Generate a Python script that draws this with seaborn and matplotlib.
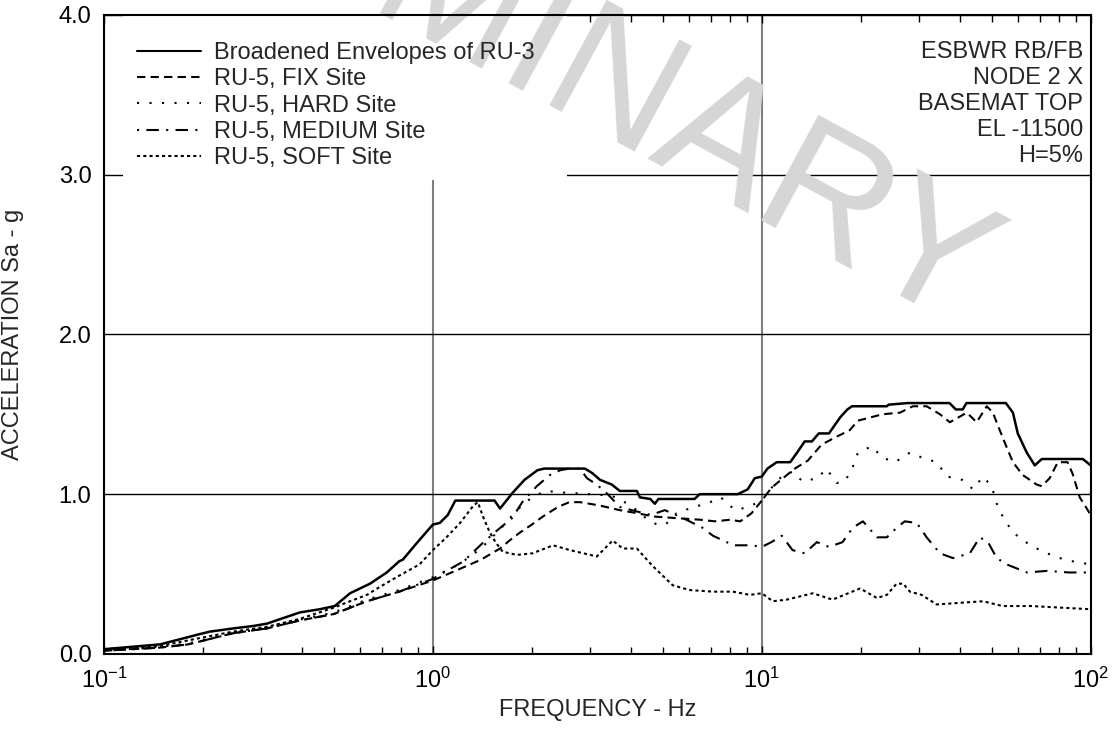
import numpy as np
import pandas as pd
import matplotlib
matplotlib.use("Agg")
import matplotlib.pyplot as plt
from matplotlib.patches import Rectangle
import seaborn as sns

# 谱加速度数据
f_env = [0.1, 0.148, 0.196, 0.21, 0.247, 0.284, 0.313, 0.394, 0.453, 0.503, 0.56, 0.644, 0.724, 0.79,
         0.81, 0.89, 1.0, 1.05, 1.11, 1.17, 1.54, 1.6, 1.75, 1.9, 2.08, 2.18, 2.9, 3.06, 3.22, 3.5,
         3.7, 4.17, 4.26, 4.58, 4.73, 4.85, 6.25, 6.47, 8.45, 9.06, 9.52, 10.0, 10.4, 11.1, 12.2,
         12.8, 13.5, 14.2, 14.9, 16.0, 17.3, 18.2, 18.8, 24.0, 24.3, 27.8, 37.2, 38.9, 40.8, 41.9,
         55.2, 58.0, 60.0, 63.9, 67.6, 71.0, 94.6, 100]
a_env = [0.03, 0.06, 0.125, 0.14, 0.16, 0.175, 0.19, 0.26, 0.28, 0.30, 0.38, 0.44, 0.51, 0.58,
         0.59, 0.69, 0.81, 0.82, 0.87, 0.96, 0.96, 0.91, 1.01, 1.09, 1.15, 1.16, 1.16, 1.13, 1.09, 1.06,
         1.02, 1.02, 0.98, 0.97, 0.94, 0.97, 0.97, 1.00, 1.00, 1.03, 1.10, 1.11, 1.16, 1.20, 1.20,
         1.26, 1.33, 1.33, 1.38, 1.38, 1.48, 1.53, 1.55, 1.55, 1.56, 1.57, 1.57, 1.53, 1.53, 1.57,
         1.57, 1.51, 1.38, 1.26, 1.18, 1.22, 1.22, 1.18]

f_fix = [0.1, 0.148, 0.18, 0.247, 0.313, 0.394, 0.5, 0.63, 0.79, 1.0, 1.2, 1.4, 1.6, 1.71, 1.84,
         2.0, 2.16, 2.4, 2.6, 2.8, 3.2, 3.7, 4.2, 4.7, 5.5, 6.5, 7.2, 8.0, 8.6, 9.3, 10.0, 10.7,
         11.6, 12.6, 13.8, 15.2, 16.9, 18.5, 19.6, 23.3, 26.3, 28.8, 31.7, 34.8, 37.3, 42.0, 45.0,
         48.3, 50.4, 52.9, 55.6, 58.0, 62.1, 68.5, 71.0, 75.0, 79.4, 85.0, 88.0, 92.6, 100]
a_fix = [0.02, 0.04, 0.06, 0.13, 0.16, 0.21, 0.25, 0.33, 0.39, 0.46, 0.53, 0.59, 0.66, 0.71, 0.76,
         0.81, 0.86, 0.92, 0.95, 0.95, 0.93, 0.90, 0.88, 0.86, 0.85, 0.84, 0.83, 0.84, 0.83, 0.88,
         0.96, 1.04, 1.10, 1.16, 1.21, 1.31, 1.36, 1.40, 1.46, 1.50, 1.51, 1.55, 1.55, 1.50, 1.45,
         1.51, 1.45, 1.55, 1.51, 1.40, 1.29, 1.20, 1.12, 1.06, 1.05, 1.10, 1.20, 1.20, 1.13, 0.98, 0.87]

f_hard = [0.1, 0.148, 0.18, 0.247, 0.313, 0.394, 0.5, 0.63, 0.79, 1.0, 1.2, 1.4, 1.6, 1.8, 2.0,
          2.2, 2.5, 3.0, 3.5, 4.0, 4.5, 4.8, 5.1, 5.5, 6.2, 6.8, 7.5, 8.3, 9.1, 10.0, 10.8, 11.6,
          12.4, 13.3, 14.8, 15.7, 16.9, 17.9, 18.9, 19.6, 21.6, 23.2, 25.4, 28.2, 30.6, 34.0, 36.6,
          40.6, 43.9, 47.0, 50.0, 51.8, 54.0, 58.0, 64.5, 71.5, 80.5, 88.0, 100]
a_hard = [0.02, 0.045, 0.065, 0.135, 0.165, 0.215, 0.26, 0.34, 0.40, 0.48, 0.56, 0.66, 0.78, 0.90,
          0.98, 1.02, 1.01, 1.00, 0.99, 0.93, 0.84, 0.81, 0.81, 0.88, 0.92, 0.94, 0.98, 0.90, 0.92,
          0.96, 1.05, 1.12, 1.14, 1.08, 1.10, 1.16, 1.07, 1.08, 1.17, 1.26, 1.30, 1.23, 1.20, 1.26,
          1.23, 1.20, 1.11, 1.09, 1.03, 1.11, 1.05, 0.94, 0.86, 0.76, 0.69, 0.64, 0.60, 0.58, 0.56]

f_med = [0.1, 0.148, 0.18, 0.247, 0.313, 0.394, 0.5, 0.63, 0.79, 1.0, 1.1, 1.24, 1.41, 1.54, 1.74,
         1.87, 2.07, 2.27, 2.44, 2.6, 2.8, 2.94, 3.15, 3.4, 3.7, 4.2, 4.6, 5.07, 5.63, 6.6, 7.1, 8.2,
         9.3, 10.0, 10.7, 11.5, 12.4, 13.5, 14.7, 16.0, 17.6, 18.9, 20.3, 22.4, 24.0, 25.7, 27.2,
         29.6, 31.7, 34.8, 38.1, 42.9, 46.0, 48.7, 51.8, 55.6, 64.0, 73.5, 86.0, 100]
a_med = [0.02, 0.04, 0.06, 0.13, 0.16, 0.21, 0.25, 0.33, 0.39, 0.47, 0.52, 0.58, 0.69, 0.76, 0.85,
         0.95, 1.05, 1.12, 1.15, 1.16, 1.16, 1.10, 1.06, 1.00, 0.92, 0.89, 0.87, 0.90, 0.86, 0.79,
         0.74, 0.68, 0.68, 0.67, 0.70, 0.74, 0.65, 0.63, 0.70, 0.67, 0.70, 0.79, 0.83, 0.73, 0.73,
         0.79, 0.83, 0.82, 0.73, 0.63, 0.60, 0.63, 0.73, 0.70, 0.60, 0.56, 0.51, 0.52, 0.51, 0.51]

f_soft = [0.1, 0.148, 0.196, 0.247, 0.313, 0.394, 0.5, 0.56, 0.63, 0.69, 0.79, 0.91, 1.0, 1.1,
          1.21, 1.33, 1.37, 1.42, 1.49, 1.55, 1.63, 1.8, 2.01, 2.32, 2.61, 3.15, 3.52, 3.78, 4.17,
          4.66, 5.36, 6.04, 7.1, 8.17, 9.2, 10.0, 10.8, 11.9, 14.3, 16.4, 19.9, 22.4, 24.0, 25.7,
          26.9, 28.2, 30.6, 34.0, 40.0, 47.0, 54.0, 66.0, 100]
a_soft = [0.03, 0.05, 0.10, 0.14, 0.17, 0.22, 0.29, 0.33, 0.37, 0.42, 0.49, 0.56, 0.65, 0.73,
          0.82, 0.93, 0.95, 0.86, 0.76, 0.70, 0.64, 0.62, 0.63, 0.68, 0.65, 0.61, 0.71, 0.66, 0.66,
          0.55, 0.43, 0.40, 0.39, 0.39, 0.37, 0.38, 0.33, 0.34, 0.38, 0.34, 0.41, 0.35, 0.37, 0.44,
          0.44, 0.39, 0.37, 0.31, 0.32, 0.33, 0.30, 0.30, 0.28]

labels = ['Broadened Envelopes of RU-3', 'RU-5, FIX Site', 'RU-5, HARD Site',
          'RU-5, MEDIUM Site', 'RU-5, SOFT Site']
info_lines = ['ESBWR RB/FB', 'NODE 2 X', 'BASEMAT TOP', 'EL -11500', 'H=5%']

sns.set_theme(style='white')
plt.rcParams['font.family'] = ['Liberation Sans', 'DejaVu Sans']
plt.rcParams['mathtext.default'] = 'regular'

fig = plt.figure(figsize=(11.13, 7.34), dpi=100)
ax = fig.add_axes([0.0934, 0.109, 0.8866, 0.871])

series = [
    (f_env, a_env, '-', 1.8),
    (f_fix, a_fix, (0, (4, 2.5)), 1.5),
    (f_hard, a_hard, (0, (1, 5)), 1.5),
    (f_med, a_med, (0, (1, 3.5, 6, 3.5)), 1.5),
    (f_soft, a_soft, (0, (1.5, 1.5)), 1.5),
]
for (fx, ay, ls, lw), lab in zip(series, labels):
    sns.lineplot(x=fx, y=ay, ax=ax, color='black', linestyle=ls, linewidth=lw,
                 label=lab, estimator=None, sort=False, zorder=3)

ax.set_xscale('log')
ax.set_xlim(0.1, 100)
ax.set_ylim(0, 4)
ax.set_yticks([0, 1, 2, 3, 4])
ax.set_yticklabels(['%.1f' % v for v in [0, 1, 2, 3, 4]])

# 网格：竖线灰色，横线黑色
ax.set_axisbelow(True)
ax.grid(False)
ax.grid(axis='x', which='major', color='#808080', linewidth=1.5)
ax.grid(axis='y', which='major', color='black', linewidth=1.0)

ax.tick_params(axis='both', which='both', direction='in', labelsize=17, colors='black')
ax.tick_params(axis='x', which='both', top=True, bottom=True)
ax.tick_params(axis='x', which='minor', length=5, width=1)
ax.tick_params(axis='x', which='major', length=6, width=1, pad=10)
ax.tick_params(axis='y', which='major', left=True, right=False, length=0, pad=9)

for sp in ax.spines.values():
    sp.set_color('black')
    sp.set_linewidth(1.5)

ax.set_xlabel('FREQUENCY - Hz', fontsize=17)
ax.set_ylabel('ACCELERATION Sa - g', fontsize=17)
ax.xaxis.set_label_coords(0.5, -0.07)
ax.yaxis.set_label_coords(-0.081, 0.5)

# 图例区域的白色底
ax.add_patch(Rectangle((0.019, 0.742), 0.45, 0.258, transform=ax.transAxes,
                       facecolor='white', edgecolor='none', zorder=0.6))

leg = ax.legend(loc='upper left', bbox_to_anchor=(0.0334, 0.957), frameon=False,
                fontsize=17, handlelength=2.7, handletextpad=0.55, labelspacing=0.18,
                borderaxespad=0, borderpad=0)
for h in leg.get_lines():
    h.set_linewidth(1.5)

ax.text(0.992, 0.959, '\n'.join(info_lines), transform=ax.transAxes, ha='right', va='top',
        fontsize=17, linespacing=1.24, zorder=4)

# 水印（压在白底上、曲线下）
ax.text(0.415, 0.981, 'PRELIMINARY', transform=fig.transFigure, fontsize=125,
        color='#d6d6d6', rotation=-28.5, ha='center', va='center', rotation_mode='anchor',
        zorder=0.7, clip_on=False)

fig.savefig('out.png', dpi=100, facecolor='white')
